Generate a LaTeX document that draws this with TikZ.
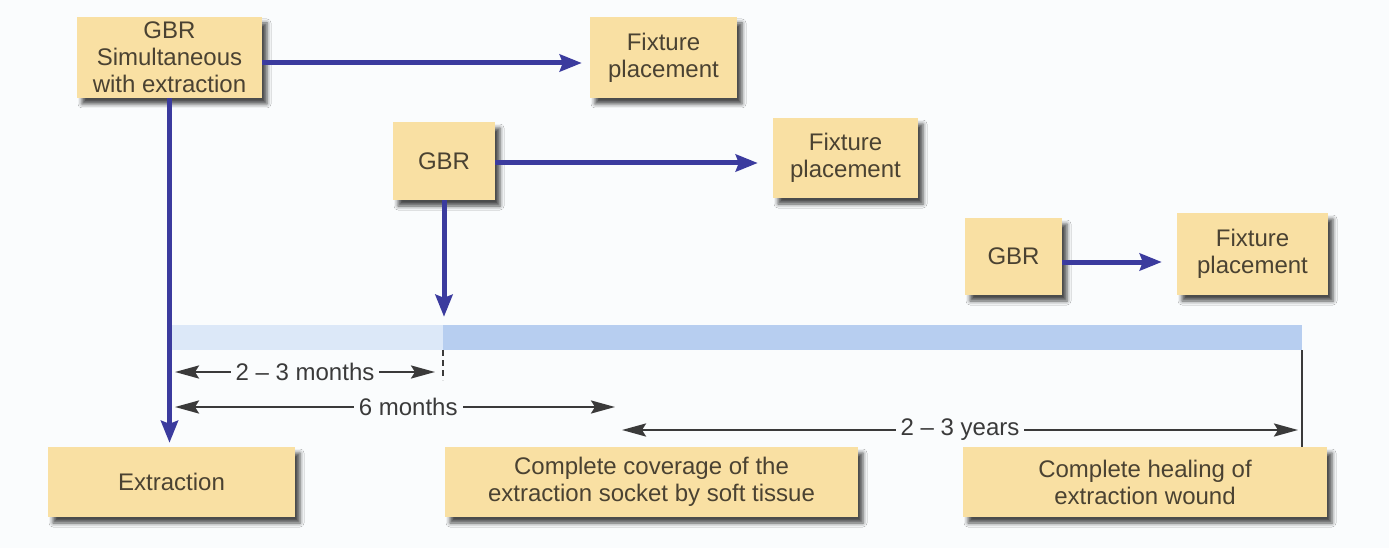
\documentclass[tikz,border=0pt]{standalone}
\usepackage{fontspec}
\setmainfont{Liberation Sans}
\usetikzlibrary{arrows.meta,shadows.blur}

\definecolor{boxfill}{HTML}{F9E0A3}
\definecolor{boxtext}{HTML}{4A4232}
\definecolor{flowblue}{HTML}{3B3B9E}
\definecolor{spangray}{HTML}{3A3A3A}
\definecolor{barlight}{HTML}{DCE8F8}
\definecolor{bardark}{HTML}{B7CEF0}
\definecolor{paper}{HTML}{FAFCFD}

\tikzset{
  stage/.style={fill=boxfill, text=boxtext, align=center, inner sep=0pt,
    font=\fontsize{24}{27}\selectfont,
    blur shadow={shadow xshift=5pt, shadow yshift=-6pt,
                 shadow blur radius=4pt, shadow opacity=70}},
  flow/.style={draw=flowblue, line width=5pt,
    -{Stealth[length=22pt,width=17pt,inset=3pt]}},
  span/.style={draw=spangray, line width=2.5pt,
    {Stealth[length=24pt,width=13pt,inset=4pt]}-{Stealth[length=24pt,width=13pt,inset=4pt]}},
  spanlabel/.style={fill=paper, text=spangray, inner xsep=5pt, inner ysep=1pt,
    font=\fontsize{24}{27}\selectfont},
  band/.style={inner sep=0pt, minimum height=25pt},
}

\begin{document}
\begin{tikzpicture}[x=1pt,y=-1pt]
\fill[paper] (0,0) rectangle (1389,548);
\useasboundingbox (0,0) rectangle (1389,548);

% the time bar
\node[band, fill=barlight, minimum width=273pt] (barEarly) at (306.5,337.5) {};
\node[band, fill=bardark, minimum width=859pt] (barLate) at (872.5,337.5) {};

% the boxes
\node[stage, minimum width=185pt, minimum height=81pt] (gbrSim) at (169.5,57.5)
  {GBR\\Simultaneous\\with extraction};
\node[stage, minimum width=147pt, minimum height=81pt] (fixOne) at (663.5,57.5)
  {Fixture\\placement};
\node[stage, minimum width=102pt, minimum height=78pt] (gbrTwo) at (444,161) {GBR};
\node[stage, minimum width=145pt, minimum height=80pt] (fixTwo) at (845.5,158)
  {Fixture\\placement};
\node[stage, minimum width=97pt, minimum height=77pt] (gbrThree) at (1013.5,256.5) {GBR};
\node[stage, minimum width=151pt, minimum height=82pt] (fixThree) at (1252.5,254)
  {Fixture\\placement};
\node[stage, minimum width=247pt, minimum height=70pt] (extr) at (171.5,482) {Extraction};
\node[stage, minimum width=413pt, minimum height=70pt] (cover) at (651.5,482)
  {Complete coverage of the\\extraction socket by soft tissue};
\node[stage, minimum width=364pt, minimum height=70pt] (heal) at (1145,482)
  {Complete healing of\\extraction wound};

% the treatment paths
\draw[flow, shorten >=8pt] ([yshift=-5.5pt]gbrSim.east) -- ([yshift=-5.5pt]fixOne.west);
\draw[flow, shorten >=4pt] (gbrSim.south) -- (gbrSim.south |- extr.north);
\draw[flow, shorten >=15pt] ([yshift=-2pt]gbrTwo.east) -- ([yshift=-2pt]gbrTwo.east -| fixTwo.west);
\draw[flow, shorten >=8pt] (gbrTwo.south) -- (gbrTwo.south |- barLate.north);
\draw[flow, shorten >=15pt] ([yshift=-5.5pt]gbrThree.east) -- ([yshift=-5.5pt]gbrThree.east -| fixThree.west);

% the intervals
\coordinate (twoL) at (175,372);
\coordinate (twoR) at (435,372);
\coordinate (sixL) at (175,407);
\coordinate (sixR) at (615,407);
\coordinate (yearL) at (622,430);
\coordinate (yearR) at (1298,430);

\draw[span] (twoL) -- node[spanlabel] {2 – 3 months} (twoR);
\draw[span] (sixL) -- node[spanlabel, pos=0.53] {6 months} (sixR);
\draw[span] (yearL) -- node[spanlabel] {2 – 3 years} (yearR);

\draw[spangray, line width=2.5pt, dash pattern=on 6pt off 4pt]
  (barEarly.south east) -- ++(0,30);
\draw[spangray, line width=2.5pt] (barLate.south east) -- (barLate.south east |- heal.north);
\end{tikzpicture}
\end{document}
